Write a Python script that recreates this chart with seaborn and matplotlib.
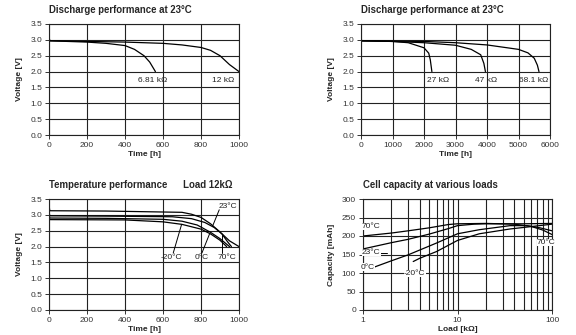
import numpy as np
import pandas as pd
import matplotlib
matplotlib.use("Agg")
import matplotlib.pyplot as plt
import seaborn as sns

# ---------------- data ----------------
# Top-left: discharge at 23 C, loads 6.81k and 12k
tl_t_681 = [0, 4, 100, 200, 300, 400, 450, 500, 530, 550, 560]
tl_v_681 = [3.1, 2.97, 2.95, 2.93, 2.89, 2.82, 2.7, 2.5, 2.3, 2.1, 2.0]
tl_t_12 = [0, 4, 200, 400, 600, 700, 800, 850, 900, 950, 1000]
tl_v_12 = [3.05, 2.97, 2.95, 2.93, 2.89, 2.84, 2.76, 2.67, 2.5, 2.22, 2.0]
tl_labels = ["6.81 kΩ", "12 kΩ"]
tl_label_x = [547, 914]

# Top-right: discharge at 23 C, loads 27k, 47k, 68.1k
tr_t_27 = [0, 20, 1000, 1500, 2000, 2150, 2200, 2250]
tr_v_27 = [3.08, 2.97, 2.95, 2.91, 2.75, 2.58, 2.37, 2.0]
tr_t_47 = [0, 20, 1000, 2000, 3000, 3500, 3800, 3900, 3950]
tr_v_47 = [3.05, 2.97, 2.95, 2.91, 2.83, 2.7, 2.53, 2.26, 2.0]
tr_t_681 = [0, 20, 1000, 2000, 3000, 4000, 5000, 5300, 5500, 5600, 5650]
tr_v_681 = [3.05, 2.97, 2.96, 2.95, 2.91, 2.84, 2.7, 2.59, 2.42, 2.2, 2.0]
tr_labels = ["27 kΩ", "47 kΩ", "68.1 kΩ"]
tr_label_x = [2450, 3980, 5480]

# Bottom-left: temperature performance, load 12k
bl_t_23 = [0, 4, 300, 700, 750, 800, 850, 900, 950, 1000]
bl_v_23 = [3.3, 3.13, 3.12, 3.08, 3.02, 2.92, 2.72, 2.46, 2.18, 2.0]
bl_t_70 = [0, 4, 300, 650, 750, 820, 870, 910, 940, 960]
bl_v_70 = [3.1, 2.97, 2.96, 2.94, 2.88, 2.76, 2.6, 2.4, 2.15, 2.0]
bl_t_0 = [0, 4, 300, 600, 700, 780, 850, 900, 930, 950]
bl_v_0 = [3.0, 2.9, 2.89, 2.86, 2.8, 2.68, 2.45, 2.25, 2.1, 2.0]
bl_t_m20 = [0, 4, 400, 600, 700, 800, 850, 900, 935]
bl_v_m20 = [2.95, 2.85, 2.84, 2.78, 2.7, 2.55, 2.4, 2.2, 2.0]
bl_labels = ["23°C", "-20°C", "0°C", "70°C"]
bl_label_x = [939, 646, 805, 939]
bl_label_y = [3.25, 1.64, 1.64, 1.64]

# Bottom-right: capacity vs load
br_l_70 = [1, 2, 3, 5, 8, 10, 20, 40, 60, 80, 100]
br_c_70 = [200, 208, 214, 222, 231, 233, 234, 232, 226, 216, 204]
br_l_23 = [1, 2, 3, 5, 8, 10, 15, 20, 50, 100]
br_c_23 = [165, 182, 191, 205, 220, 228, 232, 233, 233, 234]
br_l_0 = [1.35, 2, 3, 6, 10, 17, 36, 54, 75, 100]
br_c_0 = [117, 133, 149, 181, 206, 217, 228, 228, 222, 214]
br_l_m20 = [3.4, 4, 6, 10, 17, 36, 63, 100]
br_c_m20 = [131, 140, 158, 188, 206, 219, 226, 232]
br_labels = ["70°C", "23°C", "0°C", "-20°C", "70°C"]
br_label_x = [1.22, 1.22, 1.13, 3.52, 87]
br_label_y = [226, 155, 116, 99, 182]

# ---------------- style ----------------
sns.set_style("white")
plt.rcParams["font.family"] = ["Liberation Sans", "DejaVu Sans"]
plt.rcParams["axes.linewidth"] = 0.8

W, H = 576, 335
fig = plt.figure(figsize=(W / 100, H / 100), dpi=100)


def box(l, t, r, b):
    return [l / W, (H - b) / H, (r - l) / W, (b - t) / H]


def line_df(pairs):
    rows = []
    for name, xs, ys in pairs:
        for x, y in zip(xs, ys):
            rows.append({"s": name, "x": x, "y": y})
    return pd.DataFrame(rows)


def style_ax(ax, xlabel, ylabel, title):
    ax.grid(True, color="#222222", linewidth=0.8)
    ax.set_axisbelow(True)
    for s in ax.spines.values():
        s.set_color("#222222")
    ax.tick_params(axis="both", labelsize=6, colors="#333333", length=3,
                   width=0.7, direction="out", pad=2, left=True, bottom=True)
    ax.set_xlabel(xlabel, fontsize=6, fontweight="bold", labelpad=1.5)
    ax.set_ylabel(ylabel, fontsize=6, fontweight="bold", labelpad=5)
    ax.set_title(title, fontsize=6.9, fontweight="bold", loc="left", pad=8)


kw = dict(x="x", y="y", units="s", estimator=None, color="black",
          linewidth=0.9, sort=False, legend=False)
fmt = matplotlib.ticker.FormatStrFormatter("%.1f")

# Top-left
ax1 = fig.add_axes(box(49, 24, 239, 135))
df1 = line_df([("a", tl_t_681, tl_v_681), ("b", tl_t_12, tl_v_12)])
sns.lineplot(data=df1, ax=ax1, **kw)
ax1.set_xlim(0, 1000)
ax1.set_ylim(0, 3.5)
ax1.set_xticks(np.arange(0, 1001, 200))
ax1.set_yticks(np.arange(0, 3.51, 0.5))
ax1.yaxis.set_major_formatter(fmt)
style_ax(ax1, "Time [h]", "Voltage [V]", "Discharge performance at 23°C")
for lab, x in zip(tl_labels, tl_label_x):
    ax1.text(x, 1.72, lab, fontsize=6, ha="center", va="center", color="#222222")

# Top-right
ax2 = fig.add_axes(box(361, 24, 550, 135))
df2 = line_df([("a", tr_t_27, tr_v_27), ("b", tr_t_47, tr_v_47), ("c", tr_t_681, tr_v_681)])
sns.lineplot(data=df2, ax=ax2, **kw)
ax2.set_xlim(0, 6000)
ax2.set_ylim(0, 3.5)
ax2.set_xticks(np.arange(0, 6001, 1000))
ax2.set_yticks(np.arange(0, 3.51, 0.5))
ax2.yaxis.set_major_formatter(fmt)
style_ax(ax2, "Time [h]", "Voltage [V]", "Discharge performance at 23°C")
for lab, x in zip(tr_labels, tr_label_x):
    ax2.text(x, 1.72, lab, fontsize=6, ha="center", va="center", color="#222222")

# Bottom-left
ax3 = fig.add_axes(box(49, 199, 239, 310))
df3 = line_df([("a", bl_t_23, bl_v_23), ("b", bl_t_70, bl_v_70),
               ("c", bl_t_0, bl_v_0), ("d", bl_t_m20, bl_v_m20)])
sns.lineplot(data=df3, ax=ax3, **kw)
ax3.set_xlim(0, 1000)
ax3.set_ylim(0, 3.5)
ax3.set_xticks(np.arange(0, 1001, 200))
ax3.set_yticks(np.arange(0, 3.51, 0.5))
ax3.yaxis.set_major_formatter(fmt)
style_ax(ax3, "Time [h]", "Voltage [V]",
         "Temperature performance      Load 12kΩ")
for lab, x, y in zip(bl_labels, bl_label_x, bl_label_y):
    ax3.text(x, y, lab, fontsize=6, ha="center", va="center", color="#222222")
# leader lines
ax3.plot([896, 862], [3.16, 2.66], color="black", lw=0.7)
ax3.plot([654, 698], [1.8, 2.7], color="black", lw=0.7)
ax3.plot([805, 845], [1.8, 2.4], color="black", lw=0.7)
ax3.plot([909, 909], [1.8, 2.35], color="black", lw=0.7)

# Bottom-right
ax4 = fig.add_axes(box(363, 199, 552, 310))
df4 = line_df([("a", br_l_70, br_c_70), ("b", br_l_23, br_c_23),
               ("c", br_l_0, br_c_0), ("d", br_l_m20, br_c_m20)])
sns.lineplot(data=df4, ax=ax4, **kw)
ax4.set_xscale("log")
ax4.set_xlim(1, 100)
ax4.set_ylim(0, 300)
ax4.set_yticks(np.arange(0, 301, 50))
ax4.set_xticks([1, 10, 100])
ax4.set_xticklabels(["1", "10", "100"])
ax4.set_xticks([2, 3, 4, 5, 6, 7, 8, 9, 20, 30, 40, 50, 60, 70, 80, 90], minor=True)
ax4.xaxis.set_minor_formatter(matplotlib.ticker.NullFormatter())
style_ax(ax4, "Load [kΩ]", "Capacity [mAh]", "Cell capacity at various loads")
ax4.grid(True, which="minor", axis="x", color="#222222", linewidth=0.8)
ax4.tick_params(which="minor", length=0)
for lab, x, y in zip(br_labels, br_label_x, br_label_y):
    ax4.text(x, y, lab, fontsize=6, ha="center", va="center", color="#222222",
             bbox=dict(facecolor="white", edgecolor="none", pad=0.2))
ax4.plot([1.38, 1.8], [155, 155], color="black", lw=0.7)
ax4.plot([1.24, 1.35], [116, 117], color="black", lw=0.7)

fig.savefig("out.png", dpi=100)
